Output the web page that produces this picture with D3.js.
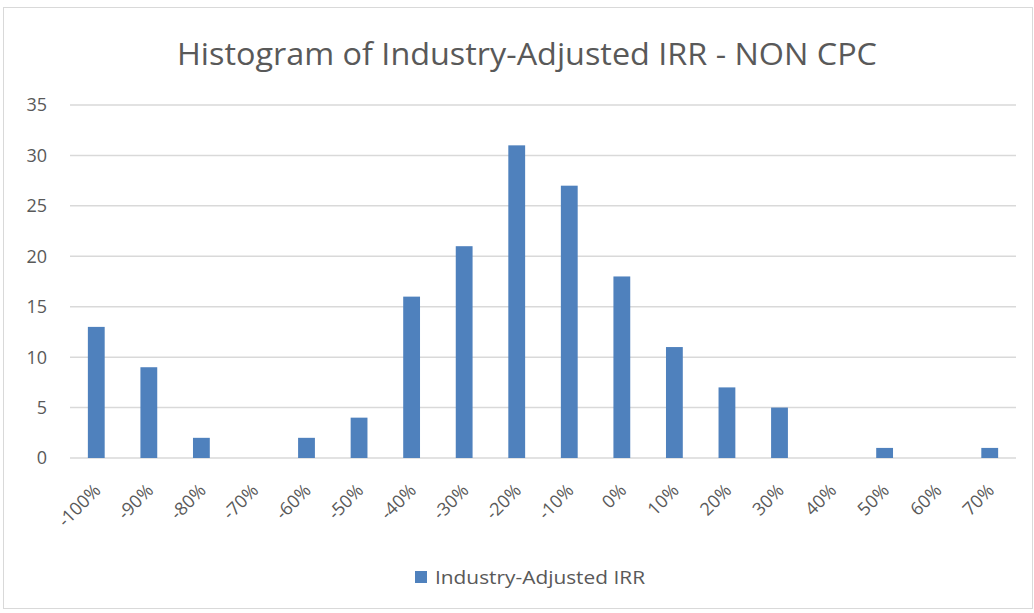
<!DOCTYPE html>
<html>
<head>
<meta charset="utf-8">
<style>
  body { margin: 0; background: #fff; }
  svg { display: block; }
</style>
<script src="https://d3js.org/d3.v7.min.js"></script>
</head>
<body>
<div id="chart"></div>
<script>
// data
const categories = ["-100%", "-90%", "-80%", "-70%", "-60%", "-50%", "-40%", "-30%", "-20%",
                    "-10%", "0%", "10%", "20%", "30%", "40%", "50%", "60%", "70%"];
const counts = [13, 9, 2, 0, 2, 4, 16, 21, 31, 27, 18, 11, 7, 5, 0, 1, 0, 1];
const yTicks = [0, 5, 10, 15, 20, 25, 30, 35];
const seriesName = "Industry-Adjusted IRR";
const title = "Histogram of Industry-Adjusted IRR - NON CPC";

const W = 1034, H = 613;
const margin = {top: 105, right: 18, bottom: 155, left: 70};
const font = "'Open Sans', 'Noto Sans', sans-serif";
const textCol = "#595959";

const svg = d3.select("#chart").append("svg")
  .attr("width", W).attr("height", H);

// chart frame
svg.append("rect")
  .attr("x", 3.5).attr("y", 7.5)
  .attr("width", W - 5).attr("height", H - 12)
  .attr("fill", "#fff").attr("stroke", "#d9d9d9");

const x = d3.scaleBand()
  .domain(categories)
  .range([margin.left, W - margin.right])
  .paddingInner(0.68).paddingOuter(0.34);

const y = d3.scaleLinear()
  .domain([0, 35])
  .range([H - margin.bottom, margin.top]);

// gridlines
svg.append("g")
  .selectAll("line")
  .data(yTicks)
  .join("line")
  .attr("x1", margin.left).attr("x2", W - margin.right)
  .attr("y1", d => y(d)).attr("y2", d => y(d))
  .attr("stroke", "#d9d9d9").attr("stroke-width", 1.5);

// y labels
svg.append("g")
  .selectAll("text")
  .data(yTicks)
  .join("text")
  .attr("x", 47)
  .attr("y", d => y(d))
  .attr("dy", "0.36em")
  .attr("text-anchor", "end")
  .attr("font-family", font).attr("font-size", 18)
  .attr("fill", textCol)
  .text(d => d);

// bars
svg.append("g")
  .selectAll("rect")
  .data(counts)
  .join("rect")
  .attr("x", (d, i) => x(categories[i]))
  .attr("width", x.bandwidth())
  .attr("y", d => y(d))
  .attr("height", d => y(0) - y(d))
  .attr("fill", "#4f81bd");

// x labels, rotated
svg.append("g")
  .selectAll("text")
  .data(categories)
  .join("text")
  .attr("transform", d => `translate(${x(d) + x.bandwidth() / 2 + 1},${y(0) + 29}) rotate(-45)`)
  .attr("text-anchor", "end")
  .attr("dy", "0.36em")
  .attr("font-family", font).attr("font-size", 18)
  .attr("fill", textCol)
  .text(d => d);

// title
svg.append("text")
  .attr("x", 527).attr("y", 65)
  .attr("text-anchor", "middle")
  .attr("font-family", font).attr("font-size", 31)
  .attr("textLength", 700).attr("lengthAdjust", "spacingAndGlyphs")
  .attr("fill", textCol)
  .text(title);

// legend
const lg = svg.append("g");
lg.append("rect")
  .attr("x", 415).attr("y", 571)
  .attr("width", 12).attr("height", 12)
  .attr("fill", "#4f81bd");
lg.append("text")
  .attr("x", 435).attr("y", 584)
  .attr("font-family", font).attr("font-size", 18)
  .attr("textLength", 210).attr("lengthAdjust", "spacingAndGlyphs")
  .attr("fill", textCol)
  .text(seriesName);
</script>
</body>
</html>
